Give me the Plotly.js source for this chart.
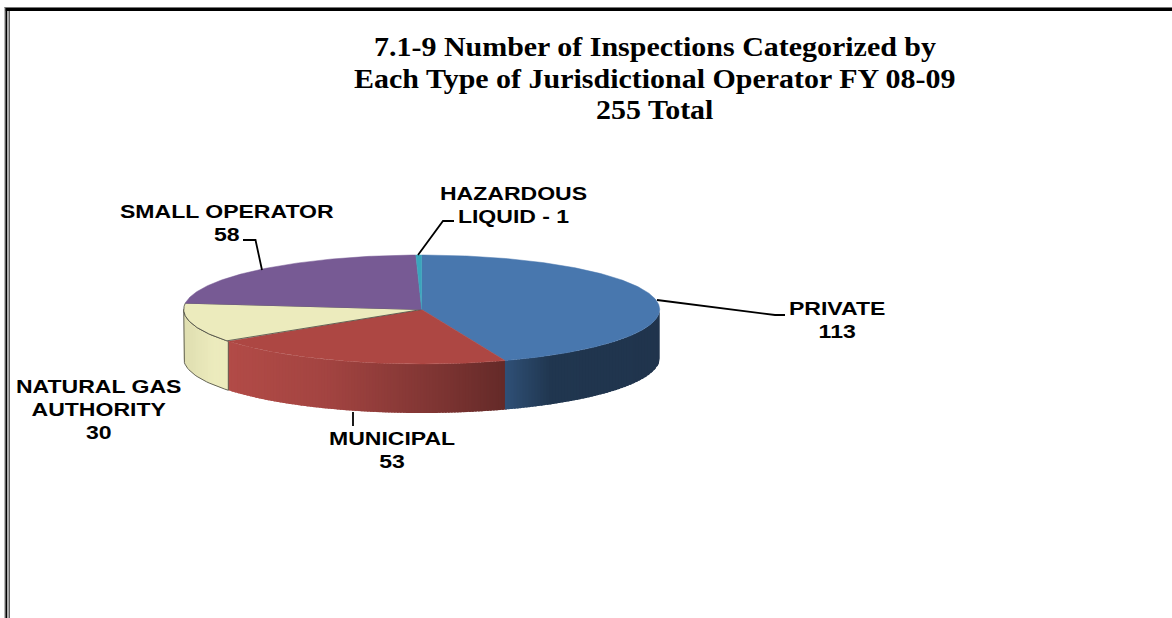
<!DOCTYPE html>
<html>
<head>
<meta charset="utf-8">
<script src="https://cdn.plot.ly/plotly-3.0.1.min.js"></script>
<style>
html,body{margin:0;padding:0;background:#fff}
#chart{width:1172px;height:618px}
.annotation-text,.gtitle{transform-box:fill-box;transform-origin:center}
.annotation-text{transform:scaleX(1.28)}
.gtitle,.annotation[data-index="5"] .annotation-text,.annotation[data-index="6"] .annotation-text{transform:scaleX(1.11)}
</style>
</head>
<body>
<div id="chart"></div>
<script>
// Data, clockwise from the top of the pie
const categories = ["PRIVATE", "MUNICIPAL", "NATURAL GAS AUTHORITY", "SMALL OPERATOR", "HAZARDOUS LIQUID"];
const inspections = [113, 53, 30, 58, 1];
const titleLines = ["7.1-9 Number of Inspections Categorized by", "Each Type of Jurisdictional Operator FY 08-09", "255 Total"];
const labelLines = [["PRIVATE", "113"], ["MUNICIPAL", "53"], ["NATURAL GAS", "AUTHORITY", "30"], ["SMALL OPERATOR", "58"], ["HAZARDOUS", "LIQUID - 1"]];

// Styles
const topColors = ["#4877ae", "#ad4743", "#ecebbd", "#775a94", "#3aa5bc"];
const wallRamps = [
  [[0, "#2f5077"], [0.3, "#20364f"], [1, "#20344d"]],
  [[0, "#b24b47"], [0.35, "#a34441"], [0.75, "#7f3533"], [1, "#642a28"]],
  [[0, "#dfdeb0"], [0.7, "#ecebbd"], [1, "#ecebbd"]]
];
const cx = 421.7, cy = 309.5, rx = 238, ry = 54.5, depth = 49;

function hexToRgb(h) { return [1, 3, 5].map(i => parseInt(h.substr(i, 2), 16)); }
function ramp(stops, t) {
  for (let i = 1; i < stops.length; i++) {
    if (t <= stops[i][0]) {
      const f = (t - stops[i - 1][0]) / (stops[i][0] - stops[i - 1][0]);
      const a = hexToRgb(stops[i - 1][1]), b = hexToRgb(stops[i][1]);
      return "rgb(" + a.map((v, k) => Math.round(v + (b[k] - v) * f)).join(",") + ")";
    }
  }
  return stops[stops.length - 1][1];
}
const px = th => cx + rx * Math.sin(th);
const py = th => cy - ry * Math.cos(th);
const frontAngle = x => Math.PI - Math.asin(Math.max(-1, Math.min(1, (x - cx) / rx)));
const total = inspections.reduce((a, b) => a + b, 0);
const bounds = [0];
inspections.forEach(v => bounds.push(bounds[bounds.length - 1] + v / total * 2 * Math.PI));

const traces = [];
function arc(a, b, n) {
  const out = [];
  for (let i = 0; i <= n; i++) out.push(a + (b - a) * i / n);
  return out;
}
// Side walls: only the front half is visible. Equal-width strips painted left to right,
// each one running a little under the next so no pale seams show.
const frontA = Math.PI / 2, frontB = 3 * Math.PI / 2;
[2, 1, 0].forEach(k => {
  const a = Math.max(bounds[k], frontA), b = Math.min(bounds[k + 1], frontB);
  const right = px(a), left = px(b);
  const n = Math.max(6, Math.round((right - left) / 3));
  for (let i = 0; i < n; i++) {
    const xa = left + (right - left) * i / n;
    const xb = Math.min(cx + rx, left + (right - left) * (i + 1) / n + 2);
    const ang = arc(frontAngle(xa), frontAngle(xb), 4);
    const rev = ang.slice().reverse();
    const col = ramp(wallRamps[k], (i + 0.5) / n);
    traces.push({
      type: "scatter", mode: "lines",
      x: ang.map(px).concat(rev.map(px)).concat([px(ang[0])]),
      y: ang.map(py).concat(rev.map(th => py(th) + depth)).concat([py(ang[0])]),
      fill: "toself", fillcolor: col, line: {color: col, width: 0},
      hoverinfo: "skip", showlegend: false, name: categories[k]
    });
  }
});
// Outline of the pale wall
{
  const a = Math.max(bounds[2], frontA), b = Math.min(bounds[3], frontB);
  const ang = arc(a, b, 24), rev = ang.slice().reverse();
  traces.push({
    type: "scatter", mode: "lines",
    x: ang.map(px).concat(rev.map(px)).concat([px(a)]),
    y: ang.map(py).concat(rev.map(th => py(th) + depth)).concat([py(a)]),
    line: {color: "#55554a", width: 0.9}, hoverinfo: "skip", showlegend: false
  });
}
// Top faces
categories.forEach((name, k) => {
  const n = Math.max(3, Math.round((bounds[k + 1] - bounds[k]) / 0.01));
  const ang = arc(bounds[k], bounds[k + 1], n);
  const edge = name === "NATURAL GAS AUTHORITY";
  traces.push({
    type: "scatter", mode: "lines", name: name,
    x: [cx].concat(ang.map(px)).concat([cx]),
    y: [cy].concat(ang.map(py)).concat([cy]),
    fill: "toself", fillcolor: topColors[k],
    line: {color: edge ? "#55554a" : topColors[k], width: edge ? 0.9 : 0.5},
    text: name + ": " + inspections[k], hoverinfo: "text", showlegend: false
  });
});
// Leader lines
[
  [[657, 300], [775, 315], [785, 315]],
  [[353, 412], [353, 426]],
  [[262, 270], [255.5, 240], [243, 240]],
  [[418, 255], [443, 221], [454, 221]]
].forEach(p => traces.push({
  type: "scatter", mode: "lines", x: p.map(q => q[0]), y: p.map(q => q[1]),
  line: {color: "#000", width: 1.8}, hoverinfo: "skip", showlegend: false
}));

const labelPos = [[837, 319.5], [392, 449], [98.5, 409], [227, 222], [513, 204]];
const annotations = labelLines.map((lines, k) => ({
  text: lines.join("<br>"), x: labelPos[k][0], y: labelPos[k][1],
  xref: "x", yref: "y", showarrow: false, align: "center", xanchor: "center", yanchor: "middle",
  font: {family: "Liberation Sans", size: 18, color: "#000", weight: 700}
}));
const titleFont = {family: "Liberation Serif", size: 27, color: "#000", weight: 700};
[79, 110].forEach((y, i) => annotations.push({
  text: titleLines[i + 1], x: 655, y, xref: "x", yref: "y", showarrow: false,
  xanchor: "center", yanchor: "middle", font: titleFont
}));

const band = (x0, y0, x1, y1, c) => ({type: "rect", xref: "x", yref: "y", x0, y0, x1, y1, fillcolor: c, line: {width: 0}, layer: "below"});
const shapes = [
  band(4.5, 7, 1172, 8, "#777"), band(5.5, 8, 1172, 11, "#000"),
  band(4.5, 7, 5.5, 618, "#777"), band(5.5, 8, 7.5, 618, "#000"),
  band(7.5, 11, 8.5, 618, "#ddd"), band(8.5, 11, 10, 618, "#666")
];

const layout = {
  width: 1172, height: 618, margin: {l: 0, r: 0, t: 0, b: 0},
  paper_bgcolor: "#fff", plot_bgcolor: "#fff", showlegend: false,
  title: {
    text: titleLines[0], x: 655 / 1172, xanchor: "center", xref: "paper",
    y: 1 - 47 / 618, yanchor: "middle", yref: "paper", font: titleFont
  },
  xaxis: {range: [0, 1172], visible: false, fixedrange: true},
  yaxis: {range: [618, 0], visible: false, fixedrange: true},
  annotations, shapes
};
Plotly.newPlot("chart", traces, layout, {displayModeBar: false, responsive: false});
</script>
</body>
</html>
